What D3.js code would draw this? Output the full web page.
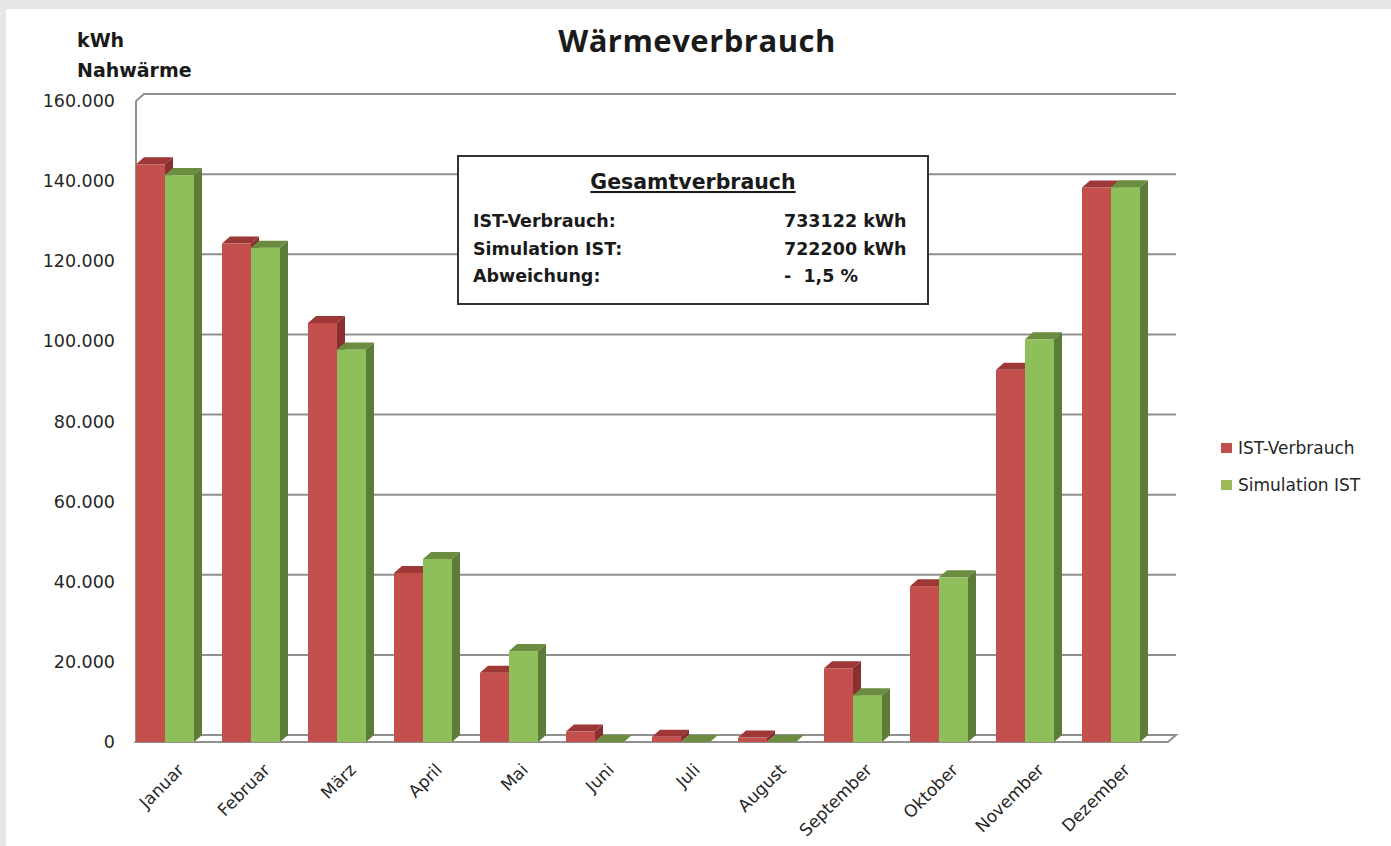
<!DOCTYPE html>
<html>
<head>
<meta charset="utf-8">
<script src="https://cdn.jsdelivr.net/npm/d3@7"></script>
<style>
  body { margin: 0; background: #e6e7e9; }
  svg { display: block; }
</style>
</head>
<body>
<svg id="chart" width="1391" height="846"></svg>
<script>
const months = ["Januar", "Februar", "März", "April", "Mai", "Juni", "Juli", "August", "September", "Oktober", "November", "Dezember"];
const seriesNames = ["IST-Verbrauch", "Simulation IST"];
const istValues = [144200, 124400, 104600, 42200, 17300, 2600, 1300, 1100, 18400, 38900, 92900, 138400];
const simValues = [141500, 123400, 98000, 45700, 22700, 0, 0, 0, 11700, 41100, 100500, 138500];
const yTicks = [0, 20000, 40000, 60000, 80000, 100000, 120000, 140000, 160000];
const summaryRows = [
  ["IST-Verbrauch:", "733122 kWh"],
  ["Simulation IST:", "722200 kWh"],
  ["Abweichung:", "-  1,5 %"]
];

// front, top, side shades per series
const shades = {
  "IST-Verbrauch": { front: "#c4504e", top: "#9e3837", side: "#8a2f2f", legend: "#c0504d" },
  "Simulation IST": { front: "#8fbf5b", top: "#6c8d40", side: "#5d7b39", legend: "#9bbb59" }
};

const dx = 8, dy = -7;   // 3d depth offset
const svg = d3.select("#chart");
const font = "'DejaVu Sans', sans-serif";

svg.append("rect").attr("x", 6).attr("y", 9).attr("width", 1391).attr("height", 846).attr("fill", "#ffffff");

const x = d3.scaleBand().domain(months).range([136, 1168]);
const inner = d3.scaleBand().domain(seriesNames).range([0, 58]);
const y = d3.scaleLinear().domain([0, 160000]).range([742, 101]);
const de = d3.formatLocale({ decimal: ",", thousands: ".", grouping: [3], currency: ["", "€"] });
const fmt = de.format(",.0f");

// floor
svg.append("polygon")
  .attr("points", [[136, y(0)], [1168, y(0)], [1168 + dx, y(0) + dy], [136 + dx, y(0) + dy]].join(" "))
  .attr("fill", "#ffffff")
  .attr("stroke", "#909090")
  .attr("stroke-width", 2);

// gridlines on the back wall
svg.append("g")
  .selectAll("polyline")
  .data(yTicks)
  .enter()
  .append("polyline")
  .attr("points", d => [[136, y(d)], [136 + dx, y(d) + dy], [1168 + dx, y(d) + dy]].join(" "))
  .attr("fill", "none")
  .attr("stroke", "#909090")
  .attr("stroke-width", 2);

svg.append("line")
  .attr("x1", 136).attr("x2", 136)
  .attr("y1", y(160000)).attr("y2", y(0))
  .attr("stroke", "#909090")
  .attr("stroke-width", 2);

// y tick labels
svg.append("g")
  .selectAll("text")
  .data(yTicks)
  .enter()
  .append("text")
  .attr("x", 115)
  .attr("y", d => y(d) + 6)
  .attr("text-anchor", "end")
  .attr("font-family", font)
  .attr("font-size", 17.5)
  .attr("fill", "#262626")
  .text(d => fmt(d));

// bars
const barData = [];
months.forEach((m, i) => {
  barData.push({ month: m, series: seriesNames[0], value: istValues[i] });
  barData.push({ month: m, series: seriesNames[1], value: simValues[i] });
});

const bars = svg.append("g")
  .selectAll("g")
  .data(barData)
  .enter()
  .append("g");

const w = inner.bandwidth();
bars.append("rect")
  .attr("x", d => x(d.month) + inner(d.series))
  .attr("y", d => y(d.value))
  .attr("width", w)
  .attr("height", d => y(0) - y(d.value))
  .attr("fill", d => shades[d.series].front);

bars.append("polygon")
  .attr("points", d => {
    const x0 = x(d.month) + inner(d.series), yt = y(d.value);
    return [[x0, yt], [x0 + dx, yt + dy], [x0 + w + dx, yt + dy], [x0 + w, yt]].join(" ");
  })
  .attr("fill", d => shades[d.series].top);

bars.append("polygon")
  .attr("points", d => {
    const x0 = x(d.month) + inner(d.series) + w, yt = y(d.value);
    return [[x0, yt], [x0 + dx, yt + dy], [x0 + dx, y(0) + dy], [x0, y(0)]].join(" ");
  })
  .attr("fill", d => shades[d.series].side);

// month labels
svg.append("g")
  .selectAll("text")
  .data(months)
  .enter()
  .append("text")
  .attr("transform", d => `translate(${x(d) + 49},${771}) rotate(-45)`)
  .attr("text-anchor", "end")
  .attr("font-family", font)
  .attr("font-size", 17)
  .attr("fill", "#262626")
  .text(d => d);

// titles
svg.append("text")
  .attr("x", 697).attr("y", 52)
  .attr("text-anchor", "middle")
  .attr("font-family", "'Open Sans', sans-serif")
  .attr("font-weight", "bold")
  .attr("font-size", 31)
  .attr("letter-spacing", 0.5)
  .attr("fill", "#1a1a1a")
  .text("Wärmeverbrauch");

svg.append("text")
  .attr("font-family", font)
  .attr("font-weight", "bold")
  .attr("font-size", 19)
  .attr("fill", "#1a1a1a")
  .selectAll("tspan")
  .data(["kWh", "Nahwärme"])
  .enter()
  .append("tspan")
  .attr("x", 77)
  .attr("y", (d, i) => 47 + i * 30)
  .text(d => d);

// summary box
const box = svg.append("g");
box.append("rect")
  .attr("x", 458).attr("y", 156)
  .attr("width", 470).attr("height", 148)
  .attr("fill", "#ffffff")
  .attr("stroke", "#333333")
  .attr("stroke-width", 2);

box.append("text")
  .attr("x", 693).attr("y", 189)
  .attr("text-anchor", "middle")
  .attr("font-family", font)
  .attr("font-weight", "bold")
  .attr("font-size", 20.5)
  .attr("text-decoration", "underline")
  .attr("fill", "#1a1a1a")
  .text("Gesamtverbrauch");

const rows = box.selectAll("g.row")
  .data(summaryRows)
  .enter()
  .append("g")
  .attr("class", "row")
  .attr("font-family", font)
  .attr("font-weight", "bold")
  .attr("font-size", 17.5)
  .attr("fill", "#1a1a1a");

rows.append("text")
  .attr("x", 473)
  .attr("y", (d, i) => 227 + i * 27.5)
  .text(d => d[0]);

rows.append("text")
  .attr("x", 784)
  .attr("y", (d, i) => 227 + i * 27.5)
  .attr("xml:space", "preserve")
  .style("white-space", "pre")
  .text(d => d[1]);

// legend
const legend = svg.append("g")
  .selectAll("g")
  .data(seriesNames)
  .enter()
  .append("g")
  .attr("transform", (d, i) => `translate(1221,${443 + i * 37})`);

legend.append("rect")
  .attr("width", 11).attr("height", 10)
  .attr("fill", d => shades[d].legend);

legend.append("text")
  .attr("x", 17).attr("y", 11)
  .attr("font-family", font)
  .attr("font-size", 17)
  .attr("fill", "#262626")
  .text(d => d);
</script>
</body>
</html>
